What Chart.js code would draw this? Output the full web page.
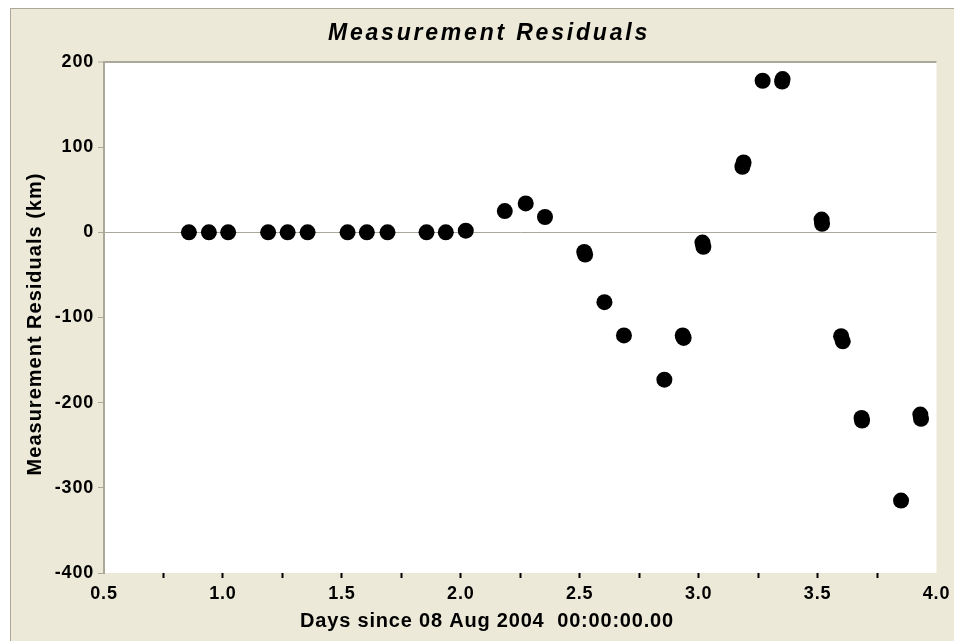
<!DOCTYPE html>
<html>
<head>
<meta charset="utf-8">
<title>Measurement Residuals</title>
<script src="https://cdn.jsdelivr.net/npm/chart.js@4.4.1/dist/chart.umd.min.js"></script>
<style>
  html, body { margin: 0; padding: 0; background: #ffffff; }
  #wrap { position: relative; width: 954px; height: 641px; }
</style>
</head>
<body>
<div id="wrap"><canvas id="residChart" width="954" height="641"></canvas></div>
<script>
// days since 08 Aug 2004 00:00:00.00
const days = [
  0.857, 0.941, 1.022, 1.190, 1.272, 1.356, 1.524, 1.605, 1.692, 1.856, 1.937, 2.021,
  2.185, 2.273, 2.354, 2.519, 2.523, 2.604, 2.686, 2.856, 2.933, 2.937,
  3.016, 3.020, 3.184, 3.189, 3.269, 3.351, 3.353, 3.517, 3.519,
  3.599, 3.606, 3.685, 3.687, 3.851, 3.932, 3.935
];
// residuals in km
const residuals = [
  0, 0, 0, 0, 0, 0, 0, 0, 0, 0, 0, 2,
  25, 34, 18, -23, -26, -82, -121, -173, -121, -124,
  -12, -17, 77, 82, 178, 177, 180, 15, 10,
  -122, -128, -218, -221, -315, -214, -219
];
const xTickValues = [0.5, 0.75, 1.0, 1.25, 1.5, 1.75, 2.0, 2.25, 2.5, 2.75, 3.0, 3.25, 3.5, 3.75, 4.0];
const xTickLabels = ["0.5", "", "1.0", "", "1.5", "", "2.0", "", "2.5", "", "3.0", "", "3.5", "", "4.0"];
const yTickValues = [-400, -300, -200, -100, 0, 100, 200];

const chartTitle = "Measurement Residuals";
const xTitle = "Days since 08 Aug 2004  00:00:00.00";
const yTitle = "Measurement Residuals (km)";

const frameColor = "#ece9d8";
const lineGray = "#aca899";
const fontName = '"Liberation Sans", Arial, sans-serif';

const framePlugin = {
  id: "frame",
  beforeDraw(chart) {
    const ctx = chart.ctx;
    const a = chart.chartArea;
    ctx.save();
    ctx.fillStyle = frameColor;
    ctx.fillRect(10, 8, chart.width - 10, chart.height - 8);
    ctx.fillStyle = lineGray;
    ctx.fillRect(10, 8, chart.width - 10, 1);
    ctx.fillRect(10, 8, 1, chart.height - 8);
    ctx.fillStyle = "#ffffff";
    ctx.fillRect(a.left, a.top, a.right - a.left, a.bottom - a.top);
    ctx.restore();
    ctx.letterSpacing = "0.8px";
  },
  afterDraw(chart) {
    const ctx = chart.ctx;
    ctx.save();
    ctx.fillStyle = "#000000";
    ctx.textAlign = "center";
    ctx.textBaseline = "middle";

    ctx.letterSpacing = "2.8px";
    ctx.font = "italic bold 23px " + fontName;
    ctx.fillText(chartTitle, 489, 34);

    ctx.letterSpacing = "0.8px";
    ctx.font = "bold 20px " + fontName;
    ctx.fillText(xTitle, 487, 621);

    ctx.letterSpacing = "1px";
    ctx.translate(35, 324);
    ctx.rotate(-Math.PI / 2);
    ctx.fillText(yTitle, 0, 0);
    ctx.restore();
    ctx.letterSpacing = "0px";
  }
};

const points = days.map((d, i) => ({ x: d, y: residuals[i] }));

new Chart(document.getElementById("residChart"), {
  type: "scatter",
  data: {
    datasets: [
      {
        label: "Residuals",
        data: points,
        pointRadius: 8,
        pointHoverRadius: 8,
        pointBackgroundColor: "#000000",
        pointBorderWidth: 0,
        pointBorderColor: "#000000",
      },
    ],
  },
  options: {
    responsive: false,
    animation: false,
    events: [],
    layout: { padding: { top: 62, right: 17, left: 0, bottom: 0 } },
    plugins: {
      legend: { display: false },
      title: { display: false },
      tooltip: { enabled: false },
    },
    scales: {
      x: {
        type: "linear",
        min: 0.5,
        max: 4.0,
        afterBuildTicks: (scale) => {
          scale.ticks = xTickValues.map((v) => ({ value: v }));
        },
        afterFit: (scale) => {
          scale.height = 68;
        },
        border: { display: false },
        grid: {
          drawOnChartArea: false,
          drawTicks: true,
          tickLength: 5,
          tickWidth: 2,
          color: "transparent",
          tickColor: (ctx) =>
            ctx.index === 0 || ctx.index === xTickValues.length - 1 ? "transparent" : "#000000",
        },
        ticks: {
          autoSkip: false,
          maxRotation: 0,
          padding: 5,
          color: "#000000",
          font: { family: fontName, size: 18, weight: "bold" },
          callback: (value, index) => xTickLabels[index],
        },
      },
      y: {
        min: -400,
        max: 200,
        afterBuildTicks: (scale) => {
          scale.ticks = yTickValues.map((v) => ({ value: v }));
        },
        afterFit: (scale) => {
          scale.width = 104;
        },
        border: { display: true, color: lineGray, width: 2 },
        grid: {
          drawOnChartArea: true,
          drawTicks: true,
          tickLength: 6,
          tickWidth: 1,
          tickColor: lineGray,
          color: (ctx) =>
            ctx.tick && (ctx.tick.value === 0 || ctx.tick.value === 200) ? lineGray : "transparent",
          lineWidth: (ctx) => (ctx.tick && ctx.tick.value === 200 ? 2 : 1),
        },
        ticks: {
          padding: 4,
          color: "#000000",
          font: { family: fontName, size: 18, weight: "bold" },
        },
      },
    },
  },
  plugins: [framePlugin],
});
</script>
</body>
</html>
